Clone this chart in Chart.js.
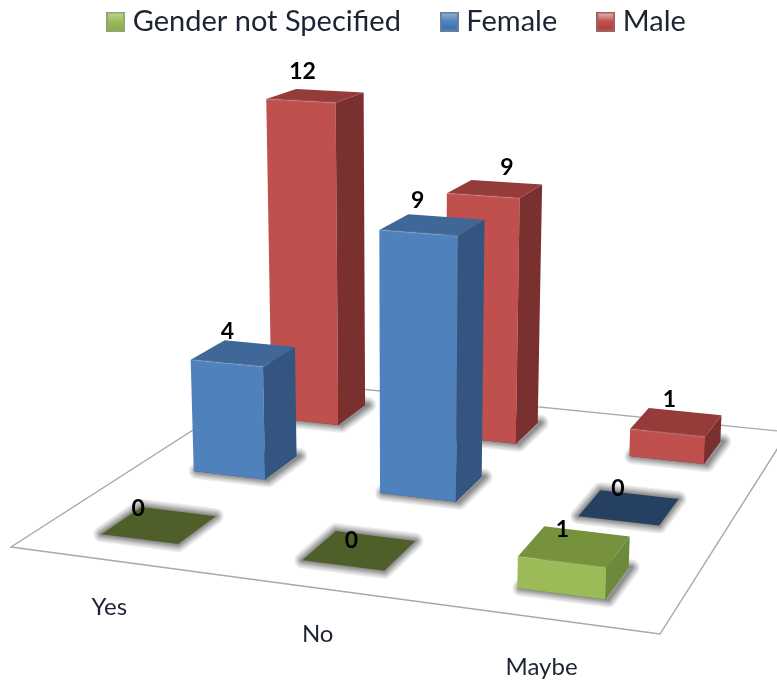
<!DOCTYPE html>
<html>
<head>
<meta charset="utf-8">
<style>
html, body { margin: 0; padding: 0; background: #fff; }
#wrap { width: 777px; height: 680px; position: relative; overflow: hidden; }
#dataChart { filter: blur(0.5px); }
</style>
<script src="https://cdn.jsdelivr.net/npm/chart.js@4/dist/chart.umd.min.js"></script>
</head>
<body>
<div id="wrap"><canvas id="dataChart"></canvas></div>
<script>
const categories = ['Yes', 'No', 'Maybe'];
const seriesNames = ['Gender not Specified', 'Female', 'Male'];
const notSpecified = [0, 0, 1];
const female = [4, 9, 0];
const male = [12, 9, 1];

const palette = [
    { front: '#9BBB59', side: '#6C8A3C', top: '#76923C', flat: '#4F5F2A', hi: '#C3D69B', lo: '#8AA84D' },
    { front: '#4F81BD', side: '#335580', top: '#3F6797', flat: '#254061', hi: '#95B3D7', lo: '#3F6FAD' },
    { front: '#C0504D', side: '#7A302E', top: '#953B39', flat: '#632523', hi: '#E6B9B8', lo: '#B03F3C' }
];

// floor corners on screen: front left, front right, back right, back left
const floor = [[11, 547], [660, 634], [788, 432], [271, 380]];
const upVanish = [400, 7900];
const upScale = -0.0041;
const barDepth = 0.41;
const labelDepth = -0.135;

// where the value label sits relative to the middle of the bar top
const labelShift = [
    [[-21, -16], [-8, -10], [-12, -17]],
    [[-16, -22], [-15, -24], [-11, -19]],
    [[-13, -24], [12, -21], [-7, -22]]
];
// category labels sit off the grid a bit
const axisLabelShift = [[43, 16], [36, 13], [28, 13]];

function makeProjection(q) {
    const [p0, p1, p2, p3] = q;
    const dx1 = p1[0] - p2[0], dx2 = p3[0] - p2[0], sx = p0[0] - p1[0] + p2[0] - p3[0];
    const dy1 = p1[1] - p2[1], dy2 = p3[1] - p2[1], sy = p0[1] - p1[1] + p2[1] - p3[1];
    const den = dx1 * dy2 - dx2 * dy1;
    const g = (sx * dy2 - dx2 * sy) / den;
    const h = (dx1 * sy - sx * dy1) / den;
    const a = p1[0] - p0[0] + g * p1[0], b = p3[0] - p0[0] + h * p3[0];
    const d = p1[1] - p0[1] + g * p1[1], e = p3[1] - p0[1] + h * p3[1];
    return (u, v, z) => {
        const k = z * upScale;
        const w = g * u + h * v + 1 + k;
        return [
            (a * u + b * v + p0[0] + k * upVanish[0]) / w,
            (d * u + e * v + p0[1] + k * upVanish[1]) / w
        ];
    };
}
const project = makeProjection(floor);

function trace(ctx, pts) {
    ctx.beginPath();
    pts.forEach((p, i) => i ? ctx.lineTo(p[0], p[1]) : ctx.moveTo(p[0], p[1]));
    ctx.closePath();
}

function face(ctx, pts, color) {
    trace(ctx, pts);
    ctx.fillStyle = color;
    ctx.fill();
}

// soft halo round a footprint, built from a few widening strokes
function softShadow(ctx, pts, dx) {
    ctx.save();
    ctx.translate(dx, 0);
    ctx.lineJoin = 'round';
    ctx.strokeStyle = 'rgba(0,0,0,0.08)';
    [16, 13, 10, 8, 6, 4, 2].forEach(w => {
        ctx.lineWidth = w;
        trace(ctx, pts);
        ctx.stroke();
    });
    ctx.restore();
}

function legendSwatch(c) {
    const s = document.createElement('canvas');
    s.width = 19;
    s.height = 20;
    const x = s.getContext('2d');
    x.fillStyle = c.side;
    x.globalAlpha = 0.75;
    x.fillRect(0, 0, 19, 20);
    x.globalAlpha = 1;
    const grad = x.createLinearGradient(0, 1, 0, 19);
    grad.addColorStop(0, c.hi);
    grad.addColorStop(0.5, c.front);
    grad.addColorStop(1, c.lo);
    x.fillStyle = grad;
    x.fillRect(2, 2, 15, 16);
    return s;
}

const perspectiveBars = {
    id: 'perspectiveBars',
    beforeDatasetsDraw(chart) {
        const ctx = chart.ctx;
        const area = chart.chartArea;
        const yMax = chart.scales.y.max;

        ctx.save();
        face(ctx, floor, '#ffffff');
        ctx.lineWidth = 1.4;
        ctx.strokeStyle = '#a8a8a8';
        ctx.stroke();

        const tops = [];
        // back row first so nearer bars paint over it
        for (let ds = chart.data.datasets.length - 1; ds >= 0; ds--) {
            const c = palette[ds];
            const vMid = (ds + 0.5) / chart.data.datasets.length;
            const v0 = vMid - barDepth / 6, v1 = vMid + barDepth / 6;
            chart.getDatasetMeta(ds).data.forEach((bar, i) => {
                const u0 = (bar.x - bar.width / 2 - area.left) / area.width;
                const u1 = (bar.x + bar.width / 2 - area.left) / area.width;
                const z = (bar.base - bar.y) / area.height * yMax;
                const foot = [project(u0, v0, 0), project(u1, v0, 0), project(u1, v1, 0), project(u0, v1, 0)];

                softShadow(ctx, foot, z > 0 ? 3 : 0);
                face(ctx, foot, z > 0 ? c.side : c.flat);

                const tl = project(u0, v0, z), tr = project(u1, v0, z);
                const br = project(u1, v1, z), bl = project(u0, v1, z);
                if (z > 0) {
                    face(ctx, [foot[0], foot[1], tr, tl], c.front);
                    face(ctx, [foot[1], foot[2], br, tr], c.side);
                    face(ctx, [tl, tr, br, bl], c.top);
                    // soft bevel along the upper front edge
                    ctx.beginPath();
                    ctx.moveTo(tl[0], tl[1]);
                    ctx.lineTo(tr[0], tr[1]);
                    ctx.strokeStyle = 'rgba(255,255,255,0.1)';
                    ctx.lineWidth = 2;
                    ctx.stroke();
                }
                const mid = project((u0 + u1) / 2, vMid, z);
                tops.push({
                    text: String(chart.data.datasets[ds].data[i]),
                    x: mid[0] + labelShift[ds][i][0],
                    y: mid[1] + labelShift[ds][i][1]
                });
            });
        }

        ctx.textAlign = 'center';
        ctx.textBaseline = 'middle';
        ctx.fillStyle = '#000000';
        ctx.font = 'bold 23px Lato';
        tops.forEach(t => ctx.fillText(t.text, t.x, t.y));

        ctx.fillStyle = '#1c2433';
        ctx.font = '24px Lato';
        chart.data.labels.forEach((label, i) => {
            const u = (chart.scales.x.getPixelForValue(i) - area.left) / area.width;
            const p = project(u, labelDepth, 0);
            ctx.fillText(label, p[0] + axisLabelShift[i][0], p[1] + axisLabelShift[i][1]);
        });
        ctx.restore();
    }
};

new Chart(document.getElementById('dataChart'), {
    type: 'bar',
    data: {
        labels: categories,
        datasets: [
            { label: seriesNames[0], data: notSpecified },
            { label: seriesNames[1], data: female },
            { label: seriesNames[2], data: male }
        ].map(d => Object.assign(d, { backgroundColor: 'transparent', barPercentage: 0.39, categoryPercentage: 1 }))
    },
    options: {
        responsive: true,
        maintainAspectRatio: false,
        animation: false,
        layout: { padding: { top: -39, left: 22 } },
        scales: {
            x: { display: false, stacked: true },
            y: { display: false, min: 0, max: 12 }
        },
        plugins: {
            tooltip: { enabled: false },
            legend: {
                position: 'top',
                labels: {
                    usePointStyle: true,
                    pointStyleWidth: 5,
                    padding: 46,
                    color: '#1c2433',
                    font: { family: 'Lato', size: 29 },
                    generateLabels(chart) {
                        return chart.data.datasets.map((d, i) => ({
                            text: d.label,
                            datasetIndex: i,
                            pointStyle: legendSwatch(palette[i]),
                            fontColor: '#1c2433',
                            lineWidth: 0
                        }));
                    }
                }
            }
        }
    },
    plugins: [perspectiveBars]
});
</script>
</body>
</html>
